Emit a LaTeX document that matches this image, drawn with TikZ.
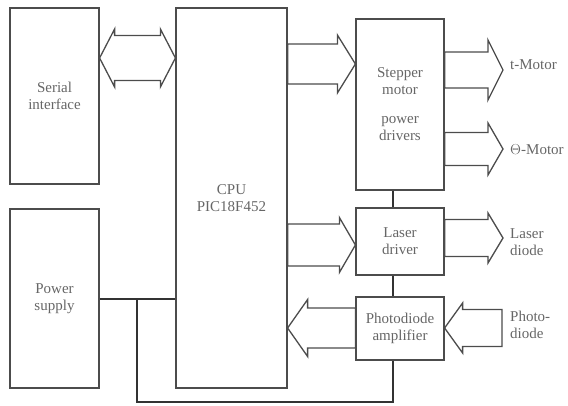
\documentclass[tikz,border=0pt]{standalone}
\usepackage{fontspec}
\setmainfont{Liberation Serif}
\usetikzlibrary{calc}
\tikzset{
  box/.style={draw=black!70, line width=1.2pt, rectangle, inner sep=0pt, align=center,
    text=black!60, font=\fontsize{15}{17}\selectfont},
  lbl/.style={anchor=west, inner sep=0pt, align=left, text=black!60, font=\fontsize{15}{17}\selectfont},
  fat/.style={draw=black!70, line width=1.3pt, line join=miter},
  wire/.style={draw=black!80, line width=1.3pt}
}
\newcommand\fatarrow[5]{% tail, tip, shaft half, head half, head length (signed)
  \draw[fat] let \p1=#1, \p2=#2, \n1={\x2-(#5)} in
    (\x1,{\y2+#3pt}) -- (\n1,{\y2+#3pt}) -- (\n1,{\y2+#4pt}) -- (\p2)
    -- (\n1,{\y2-#4pt}) -- (\n1,{\y2-#3pt}) -- (\x1,{\y2-#3pt}) -- cycle;}
\begin{document}
\begin{tikzpicture}[x=1pt,y=-1pt]
\useasboundingbox (0,0) rectangle (568,405);
\node[box, minimum width=89pt, minimum height=176pt] (serial) at (54.5,96) {Serial\\interface};
\node[box, minimum width=89pt, minimum height=179pt] (power) at (54.5,298.5) {Power\\supply};
\node[box, minimum width=111pt, minimum height=380pt] (cpu) at (231.5,198) {CPU\\PIC18F452};
\node[box, minimum width=88pt, minimum height=171pt] (stepper) at (400,104.5) {Stepper\\motor\\[12pt]power\\drivers};
\node[box, minimum width=88pt, minimum height=67pt] (laser) at (400,241.5) {Laser\\driver};
\node[box, minimum width=88pt, minimum height=63pt] (amp) at (400,328.5) {Photodiode\\amplifier};

\node[lbl] (tmotor) at (510,65) {t-Motor};
\node[lbl] (thmotor) at (510,150) {$\Theta$-Motor};
\node[lbl] (ldiode) at (510,242) {Laser\\diode};
\node[lbl] (pdiode) at (510,325) {Photo-\\diode};
\coordinate (tipx) at (503,0);
\coordinate (tailx) at (502,0);

% serial <-> cpu double arrow
\draw[fat] let \p1=(serial.east |- 0,58), \p2=(cpu.west |- 0,58) in
  (\p1) -- ({\x1+15pt},{\y1+29pt}) -- ({\x1+15pt},{\y1+22.5pt}) -- ({\x2-15pt},{\y1+22.5pt})
  -- ({\x2-15pt},{\y1+29pt}) -- (\p2) -- ({\x2-15pt},{\y1-29pt}) -- ({\x2-15pt},{\y1-22.5pt})
  -- ({\x1+15pt},{\y1-22.5pt}) -- ({\x1+15pt},{\y1-29pt}) -- cycle;

\fatarrow{(cpu.east |- 0,64)}{(stepper.west |- 0,64)}{20}{29}{18}
\fatarrow{(stepper.east |- 0,70)}{(tipx |- 0,70)}{18}{30}{15}
\fatarrow{(stepper.east |- 0,149)}{(tipx |- 0,149)}{16.5}{26}{15}
\fatarrow{(cpu.east |- 0,245)}{(laser.west |- 0,245)}{21}{27.5}{16}
\fatarrow{(laser.east |- 0,238)}{(tipx |- 0,238)}{18.5}{25}{15}
\fatarrow{(amp.west |- 0,328)}{(cpu.east |- 0,328)}{20}{28.5}{-20}
\fatarrow{(tailx |- 0,328)}{(amp.east |- 0,328)}{18.5}{25}{-18}

% wires
\coordinate (bus) at (393,0);
\coordinate (jn) at (137,299);
\coordinate (bl) at (137,402);
\draw[wire] (stepper.south -| bus) -- (laser.north -| bus);
\draw[wire] (laser.south -| bus) -- (amp.north -| bus);
\draw[wire] (power.east |- jn) -- (cpu.west |- jn);
\draw[wire] (jn) -- (bl) -- (bl -| bus) -- (amp.south -| bus);
\end{tikzpicture}
\end{document}
